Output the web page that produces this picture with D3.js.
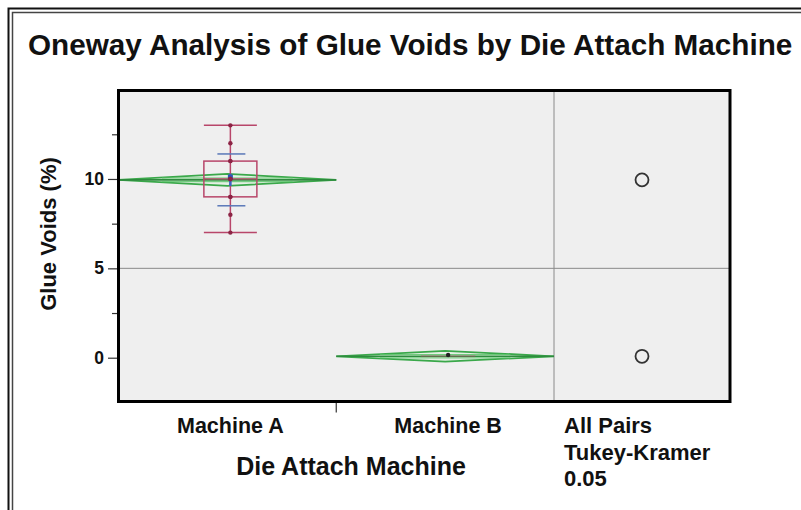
<!DOCTYPE html>
<html>
<head>
<meta charset="utf-8">
<script src="https://cdn.jsdelivr.net/npm/d3@7"></script>
<style>
  body { margin: 0; background: #fff; }
  svg text { font-family: "Liberation Sans", Arial, sans-serif; fill: #111; }
</style>
</head>
<body>
<svg id="oneway"></svg>
<script>
// values
const machines = ['Machine A', 'Machine B'];
const pointsA = [7, 8, 9, 9, 10, 10, 10, 11, 11, 12, 13];
const pointsB = [0.15];
const groupMeans = [9.95, 0.08];
const ciHalf = [0.34, 0.3];
const boxQ1 = [9, 0.1];
const boxMedian = [10, 0.1];
const boxQ3 = [11, 0.1];
const whiskerLow = [7, 0.1];
const whiskerHigh = [13, 0.1];
const sdLineLow = [8.5, null];
const sdLineHigh = [11.4, null];
const yTicks = [0, 5, 10];
const yMinorTicks = [2.5, 7.5, 12.5];
const compareLabel = ['All Pairs', 'Tukey-Kramer', '0.05'];

class OnewayPlot {
  constructor(_config) {
    this.config = {
      parentElement: _config.parentElement,
      containerWidth: 801,
      containerHeight: 510,
      frame: { left: 118.5, right: 730, top: 90.5, bottom: 401.5 },
      splitX: 554
    };
    this.initVis();
  }

  initVis() {
    let vis = this;
    const f = vis.config.frame;

    vis.svg = d3.select(vis.config.parentElement)
      .attr('width', vis.config.containerWidth)
      .attr('height', vis.config.containerHeight);

    // outer report border (double line, runs off right/bottom)
    vis.svg.append('path')
      .attr('d', 'M8.5,510 V8.5 H801')
      .attr('fill', 'none').attr('stroke', '#111').attr('stroke-width', 2);
    vis.svg.append('path')
      .attr('d', 'M12.5,510 V12.5 H801')
      .attr('fill', 'none').attr('stroke', '#444').attr('stroke-width', 1.5);

    vis.svg.append('text')
      .attr('x', 28)
      .attr('y', 55)
      .style('font-size', '29.7px')
      .style('font-weight', 'bold')
      .text('Oneway Analysis of Glue Voids by Die Attach Machine');

    vis.yScale = d3.scaleLinear()
      .domain([-2.45, 14.95])
      .range([f.bottom, f.top]);

    vis.xScale = d3.scaleBand()
      .domain(machines)
      .range([f.left, vis.config.splitX])
      .padding(0);

    vis.chart = vis.svg.append('g');
    vis.chart.append('rect')
      .attr('x', f.left).attr('y', f.top)
      .attr('width', f.right - f.left).attr('height', f.bottom - f.top)
      .attr('fill', '#efefef');
  }

  renderVis() {
    let vis = this;
    const f = vis.config.frame;
    const y = vis.yScale, x = vis.xScale;
    const bw = x.bandwidth();

    // grid line at 5 and comparison panel divider
    vis.chart.append('line')
      .attr('x1', f.left).attr('x2', f.right)
      .attr('y1', y(5)).attr('y2', y(5))
      .attr('stroke', '#8a8a8a').attr('stroke-width', 1);
    vis.chart.append('line')
      .attr('x1', vis.config.splitX).attr('x2', vis.config.splitX)
      .attr('y1', f.top).attr('y2', f.bottom)
      .attr('stroke', '#8a8a8a').attr('stroke-width', 1);

    const groups = machines.map((m, i) => ({
      name: m, mean: groupMeans[i], ci: ciHalf[i],
      q1: boxQ1[i], med: boxMedian[i], q3: boxQ3[i],
      lo: whiskerLow[i], hi: whiskerHigh[i],
      sdLo: sdLineLow[i], sdHi: sdLineHigh[i],
      points: i === 0 ? pointsA : pointsB
    }));

    const g = vis.chart.selectAll('.group')
      .data(groups)
      .join('g')
      .attr('class', 'group');

    // means diamonds
    const diamond = d => {
      const x0 = x(d.name), x1 = x0 + bw, xc = x0 + bw / 2;
      return `M${x0},${y(d.mean)} L${xc},${y(d.mean + d.ci)} L${x1},${y(d.mean)} L${xc},${y(d.mean - d.ci)} Z`;
    };
    g.append('path')
      .attr('d', diamond)
      .attr('fill', '#d6efd6').attr('fill-opacity', 0.4)
      .attr('stroke', '#3aa84a').attr('stroke-width', 1.8);
    g.append('line')
      .attr('x1', d => x(d.name)).attr('x2', d => x(d.name) + bw)
      .attr('y1', d => y(d.mean)).attr('y2', d => y(d.mean))
      .attr('stroke', '#2e8b3e').attr('stroke-width', 1.6);
    // overlap marks
    [1, -1].forEach(s => {
      g.append('line')
        .attr('x1', d => x(d.name) + bw * 0.2).attr('x2', d => x(d.name) + bw * 0.8)
        .attr('y1', d => y(d.mean + s * d.ci * 0.3)).attr('y2', d => y(d.mean + s * d.ci * 0.3))
        .attr('stroke', '#5cc46a').attr('stroke-width', 1);
    });

    // box plots
    const boxW = 53;
    const cx = d => x(d.name) + bw / 2 + 3;
    const boxColor = '#b8466a';
    g.append('line')
      .attr('x1', cx).attr('x2', cx)
      .attr('y1', d => y(d.lo)).attr('y2', d => y(d.hi))
      .attr('stroke', boxColor).attr('stroke-width', 1.5);
    g.append('rect')
      .attr('x', d => cx(d) - boxW / 2).attr('width', boxW)
      .attr('y', d => y(d.q3)).attr('height', d => Math.max(0.5, y(d.q1) - y(d.q3)))
      .attr('fill', 'none').attr('stroke', boxColor).attr('stroke-width', 1.5)
      .attr('stroke-opacity', (d, i) => i === 0 ? 1 : 0.35);
    g.filter(d => d.hi - d.lo > 0.5).each(function (d) {
      const sel = d3.select(this);
      [d.lo, d.hi].forEach(v => {
        sel.append('line')
          .attr('x1', cx(d) - boxW / 2).attr('x2', cx(d) + boxW / 2)
          .attr('y1', y(v)).attr('y2', y(v))
          .attr('stroke', boxColor).attr('stroke-width', 1.5);
      });
      sel.append('line')
        .attr('x1', cx(d) - boxW / 2).attr('x2', cx(d) + boxW / 2)
        .attr('y1', y(d.med)).attr('y2', y(d.med))
        .attr('stroke', boxColor).attr('stroke-width', 1.2);
      // std dev lines and mean error bar
      [d.sdLo, d.sdHi].forEach(v => {
        sel.append('line')
          .attr('x1', cx(d) - 13).attr('x2', cx(d) + 15)
          .attr('y1', y(v)).attr('y2', y(v))
          .attr('stroke', '#5a78b8').attr('stroke-width', 1.5);
      });
      sel.append('line')
        .attr('x1', cx(d)).attr('x2', cx(d))
        .attr('y1', y(d.mean - d.ci)).attr('y2', y(d.mean + d.ci))
        .attr('stroke', '#3b63c4').attr('stroke-width', 2.5);
      sel.append('rect')
        .attr('x', cx(d) - 2.5).attr('y', y(d.mean + 0.15) - 2.5)
        .attr('width', 5).attr('height', 5)
        .attr('fill', '#2f56b8');
    });

    // data points
    g.selectAll('.point')
      .data(d => d.points.map(v => ({ v, d })))
      .join('circle')
      .attr('class', 'point')
      .attr('cx', p => cx(p.d))
      .attr('cy', p => y(p.v))
      .attr('r', 2.2)
      .attr('fill', p => p.d.name === 'Machine A' ? '#8c2445' : '#222');

    // comparison circles
    const compX = (vis.config.splitX + f.right) / 2;
    vis.chart.selectAll('.comp-circle')
      .data(groups)
      .join('circle')
      .attr('class', 'comp-circle')
      .attr('cx', compX)
      .attr('cy', d => y(d.mean))
      .attr('r', 6.5)
      .attr('fill', 'none')
      .attr('stroke', '#333')
      .attr('stroke-width', 1.8);

    // frame
    vis.chart.append('rect')
      .attr('x', f.left).attr('y', f.top)
      .attr('width', f.right - f.left).attr('height', f.bottom - f.top)
      .attr('fill', 'none').attr('stroke', '#000').attr('stroke-width', 3);

    // y axis
    const yAxisG = vis.svg.append('g')
      .attr('transform', `translate(${f.left - 1.5},0)`)
      .call(d3.axisLeft(y).tickValues(yTicks).tickSize(9).tickPadding(4));
    yAxisG.select('.domain').remove();
    yAxisG.selectAll('.tick line').attr('stroke', '#333').attr('stroke-width', 1.2);
    yAxisG.selectAll('.tick text')
      .attr('fill', '#111')
      .style('font-size', '17.5px')
      .style('font-weight', 'bold')
      .style('font-family', '"Liberation Sans", Arial, sans-serif');
    const yMinorG = vis.svg.append('g')
      .attr('transform', `translate(${f.left - 1.5},0)`)
      .call(d3.axisLeft(y).tickValues(yMinorTicks).tickSize(5).tickFormat(''));
    yMinorG.select('.domain').remove();
    yMinorG.selectAll('.tick line').attr('stroke', '#333').attr('stroke-width', 1.2);

    vis.svg.append('text')
      .attr('transform', 'translate(56,234) rotate(-90)')
      .attr('text-anchor', 'middle')
      .style('font-size', '22px')
      .style('font-weight', 'bold')
      .text('Glue Voids (%)');

    // x axis: category divider tick and labels
    vis.svg.append('line')
      .attr('x1', x('Machine B')).attr('x2', x('Machine B'))
      .attr('y1', f.bottom + 1.5).attr('y2', f.bottom + 11)
      .attr('stroke', '#333').attr('stroke-width', 1.2);
    vis.svg.selectAll('.x-label')
      .data(machines)
      .join('text')
      .attr('class', 'x-label')
      .attr('x', d => x(d) + bw / 2 + 3)
      .attr('y', 433)
      .attr('text-anchor', 'middle')
      .style('font-size', '21.5px')
      .style('font-weight', 'bold')
      .text(d => d);
    vis.svg.append('text')
      .attr('x', 351)
      .attr('y', 475)
      .attr('text-anchor', 'middle')
      .style('font-size', '25px')
      .style('font-weight', 'bold')
      .text('Die Attach Machine');

    vis.svg.selectAll('.comp-label')
      .data(compareLabel)
      .join('text')
      .attr('class', 'comp-label')
      .attr('x', 564)
      .attr('y', (d, i) => 433 + i * 26.5)
      .style('font-size', '22px')
      .style('font-weight', 'bold')
      .text(d => d);
  }
}

const plot = new OnewayPlot({ parentElement: '#oneway' });
plot.renderVis();
</script>
</body>
</html>
